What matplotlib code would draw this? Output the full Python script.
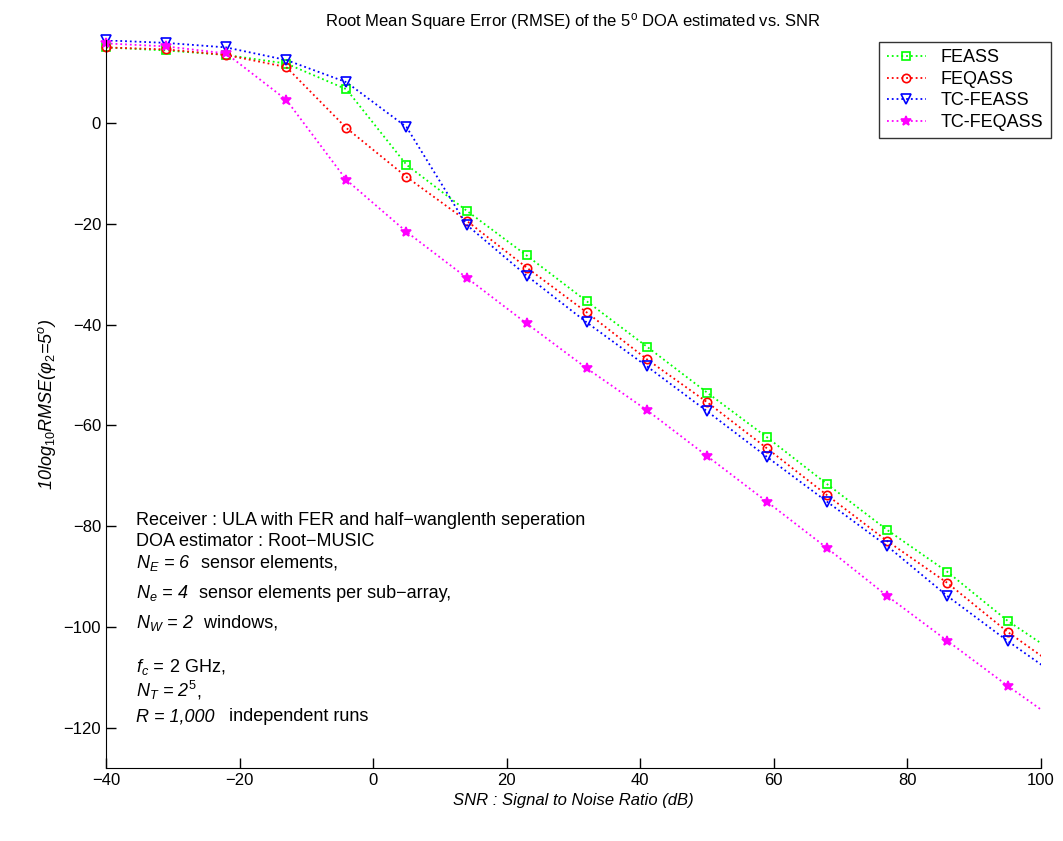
import numpy as np
import matplotlib.pyplot as plt
from matplotlib.lines import Line2D

plt.rcParams['font.family'] = ['Liberation Sans', 'DejaVu Sans']
plt.rcParams['mathtext.fontset'] = 'custom'
plt.rcParams['mathtext.rm'] = 'Liberation Sans'
plt.rcParams['mathtext.it'] = 'Liberation Sans:italic'
plt.rcParams['mathtext.default'] = 'it'

# SNR points (dB)
snr = [-40, -31, -22, -13, -4, 5, 14, 23, 32, 41, 50, 59, 68, 77, 86, 95, 104]

# 10log10 RMSE values
feass = [15.0, 14.4, 13.5, 11.8, 6.7, -8.3, -17.4, -26.3, -35.4, -44.4,
         -53.5, -62.4, -71.7, -80.8, -89.1, -98.8, -106.8]
feqass = [15.0, 14.6, 13.5, 11.1, -1.0, -10.7, -19.4, -28.7, -37.6, -46.9,
          -55.4, -64.6, -73.9, -83.0, -91.3, -101.0, -109.5]
tc_feass = [16.4, 15.9, 15.0, 12.5, 8.1, -0.8, -20.2, -30.3, -39.6, -48.3,
            -57.2, -66.3, -75.2, -84.0, -93.9, -102.8, -111.2]
tc_feqass = [15.8, 15.2, 13.8, 4.6, -11.3, -21.6, -30.7, -39.8, -48.7, -57.0,
             -66.1, -75.2, -84.4, -93.9, -102.8, -111.7, -120.2]

series = [
    ('FEASS', feass, '#00ff00', 's', 'none', 6),
    ('FEQASS', feqass, '#ff0000', 'o', 'none', 6),
    ('TC-FEASS', tc_feass, '#0000ff', 'v', 'none', 7),
    ('TC-FEQASS', tc_feqass, '#ff00ff', '*', '#ff00ff', 7),
]

fig = plt.figure(figsize=(10.63, 8.41), dpi=100)
ax = fig.add_axes([0.0997, 0.087, 0.8795, 0.865])

handles = []
for name, vals, col, mk, mfc, ms in series:
    # dotted line clipped to the axes, markers drawn unclipped
    ax.plot(snr, vals, ':', color=col, lw=1.3)
    ax.plot(snr[:-1], vals[:-1], ls='none', color=col, marker=mk, mfc=mfc,
            ms=ms, mew=1.2, clip_on=False)
    handles.append(Line2D([], [], ls=':', color=col, lw=1.3, marker=mk,
                          mfc=mfc, ms=ms, mew=1.2, label=name))

ax.set_xlim(-40, 100)
ax.set_ylim(-128, 16.4)
ax.set_xticks(np.arange(-40, 101, 20))
ax.set_yticks(np.arange(-120, 1, 20))
ax.tick_params(direction='in', length=7, labelsize=12, width=1)
ax.spines['top'].set_visible(False)
ax.spines['right'].set_visible(False)

ax.set_title('Root Mean Square Error (RMSE) of the 5$^{\\mathrm{o}}$ DOA estimated vs. SNR',
             fontsize=12, pad=10)
ax.set_xlabel('SNR : Signal to Noise Ratio (dB)', fontsize=12, style='italic')
ax.set_ylabel('10log$_{10}$RMSE(\u03c6$_2$=5$^o$)', fontsize=13, style='italic')

# notes: (baseline y pixel, italic part, upright part)
notes = [
    (525, '', 'Receiver : ULA with FER and half\u2212wanglenth seperation'),
    (546, '', 'DOA estimator : Root\u2212MUSIC'),
    (568, 'N$_E$ = 6', '  sensor elements,'),
    (598, 'N$_e$ = 4', '  sensor elements per sub\u2212array,'),
    (628, 'N$_W$ = 2', '  windows,'),
    (672, 'f$_c$ =', ' 2 GHz,'),
    (697, 'N$_T$ = 2$^5$', ','),
    (721, 'R = 1,000', '   independent runs'),
]
x0 = 136 / 1063
renderer = fig.canvas.get_renderer()
for py, it_txt, rm_txt in notes:
    y = 1 - py / 841
    x = x0
    if it_txt:
        t = fig.text(x, y, it_txt, fontsize=13, style='italic', va='baseline', ha='left')
        bb = t.get_window_extent(renderer=renderer)
        x = bb.x1 / fig.bbox.width
    fig.text(x, y, rm_txt, fontsize=13, va='baseline', ha='left')

leg = ax.legend(handles=handles, loc='upper right', bbox_to_anchor=(1.02, 1.01),
                fontsize=13, frameon=True, fancybox=False, edgecolor='black',
                handlelength=2.2, borderpad=0.4, labelspacing=0.25)
leg.get_frame().set_linewidth(1.0)

fig.savefig('out.png', dpi=100)
